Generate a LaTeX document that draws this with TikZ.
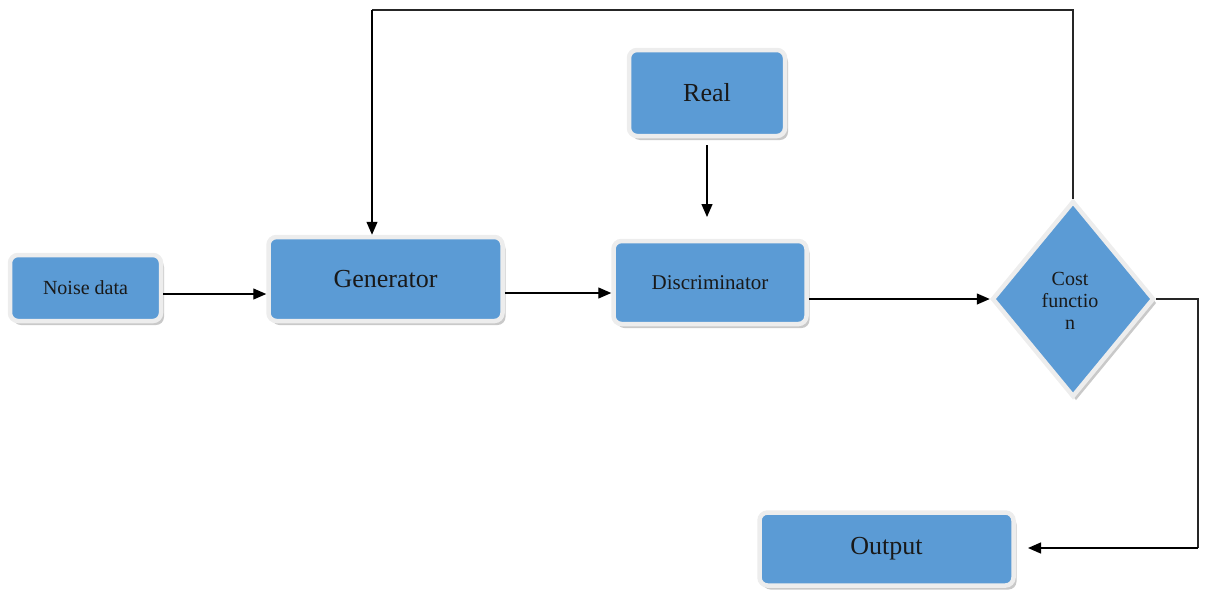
\documentclass[tikz,border=0pt]{standalone}
\usepackage{fontspec}
\setmainfont{Liberation Serif}
\usetikzlibrary{shapes.geometric,shadows,arrows.meta}
\definecolor{boxblue}{HTML}{5B9BD5}
\definecolor{rimcol}{HTML}{EDEDED}
\tikzset{
  blk/.style={rectangle, rounded corners=8pt, fill=boxblue, draw=rimcol, line width=4.5pt,
    inner sep=0pt, font=\fontsize{26}{28}\selectfont, text=black!90,
    drop shadow={shadow xshift=3pt, shadow yshift=-4pt, fill=gray!60, opacity=0.7}},
  dia/.style={diamond, fill=boxblue, draw=rimcol, line width=4.5pt, inner sep=0pt,
    drop shadow={shadow xshift=3pt, shadow yshift=-4pt, fill=gray!60, opacity=0.7}},
  arr/.style={-{Triangle[length=13pt,width=11pt]}, line width=1.3pt, black},
  ln/.style={line width=1.3pt, black!85},
}
\begin{document}
\begin{tikzpicture}[x=1pt,y=-1pt]
\useasboundingbox (0,0) rectangle (1222,597);
\node[blk, minimum width=151pt, minimum height=66pt, font=\fontsize{20}{22}\selectfont] (noise) at (85.5,288) {Noise data};
\node[blk, minimum width=234pt, minimum height=84pt] (gen) at (385.5,279) {\raisebox{-2pt}{Generator}};
\node[blk, minimum width=156pt, minimum height=86pt] (real) at (707,93) {\raisebox{-2pt}{Real}};
\node[blk, minimum width=193pt, minimum height=83pt, font=\fontsize{21}{23}\selectfont] (disc) at (710,282.5) {Discriminator};
\node[blk, minimum width=254pt, minimum height=73pt] (out) at (886.5,549) {\raisebox{-4pt}{Output}};
\node[dia, minimum width=162pt, minimum height=196pt] (cost) at (1073,299) {};
\node[align=center, font=\fontsize{20}{22}\selectfont, text=black!90] (costtxt) at (1070,301) {Cost\\functio\\n};

\coordinate (y1) at (0,294);
\coordinate (y2) at (0,293);
\coordinate (realend) at (707,217);
\coordinate (topy) at (0,10);
\coordinate (genx) at (372,0);
\coordinate (rx) at (1198,0);
\coordinate (outend) at (1028,548);

\draw[arr] (noise.east |- y1) -- (gen.west |- y1);
\draw[arr] (gen.east |- y2) -- (disc.west |- y2);
\draw[arr] (real.south) ++(0,7) -- (realend);
\draw[arr] (disc.east |- cost.west) -- (cost.west);
\draw[ln] (cost.north) -- ++(0,-5) |- (topy -| genx);
\draw[arr] (topy -| genx) -- (genx |- gen.north);
\draw[ln] (cost.east) -- (rx |- cost.east) -- (rx |- outend);
\draw[arr] (rx |- outend) -- (outend);
\end{tikzpicture}
\end{document}
